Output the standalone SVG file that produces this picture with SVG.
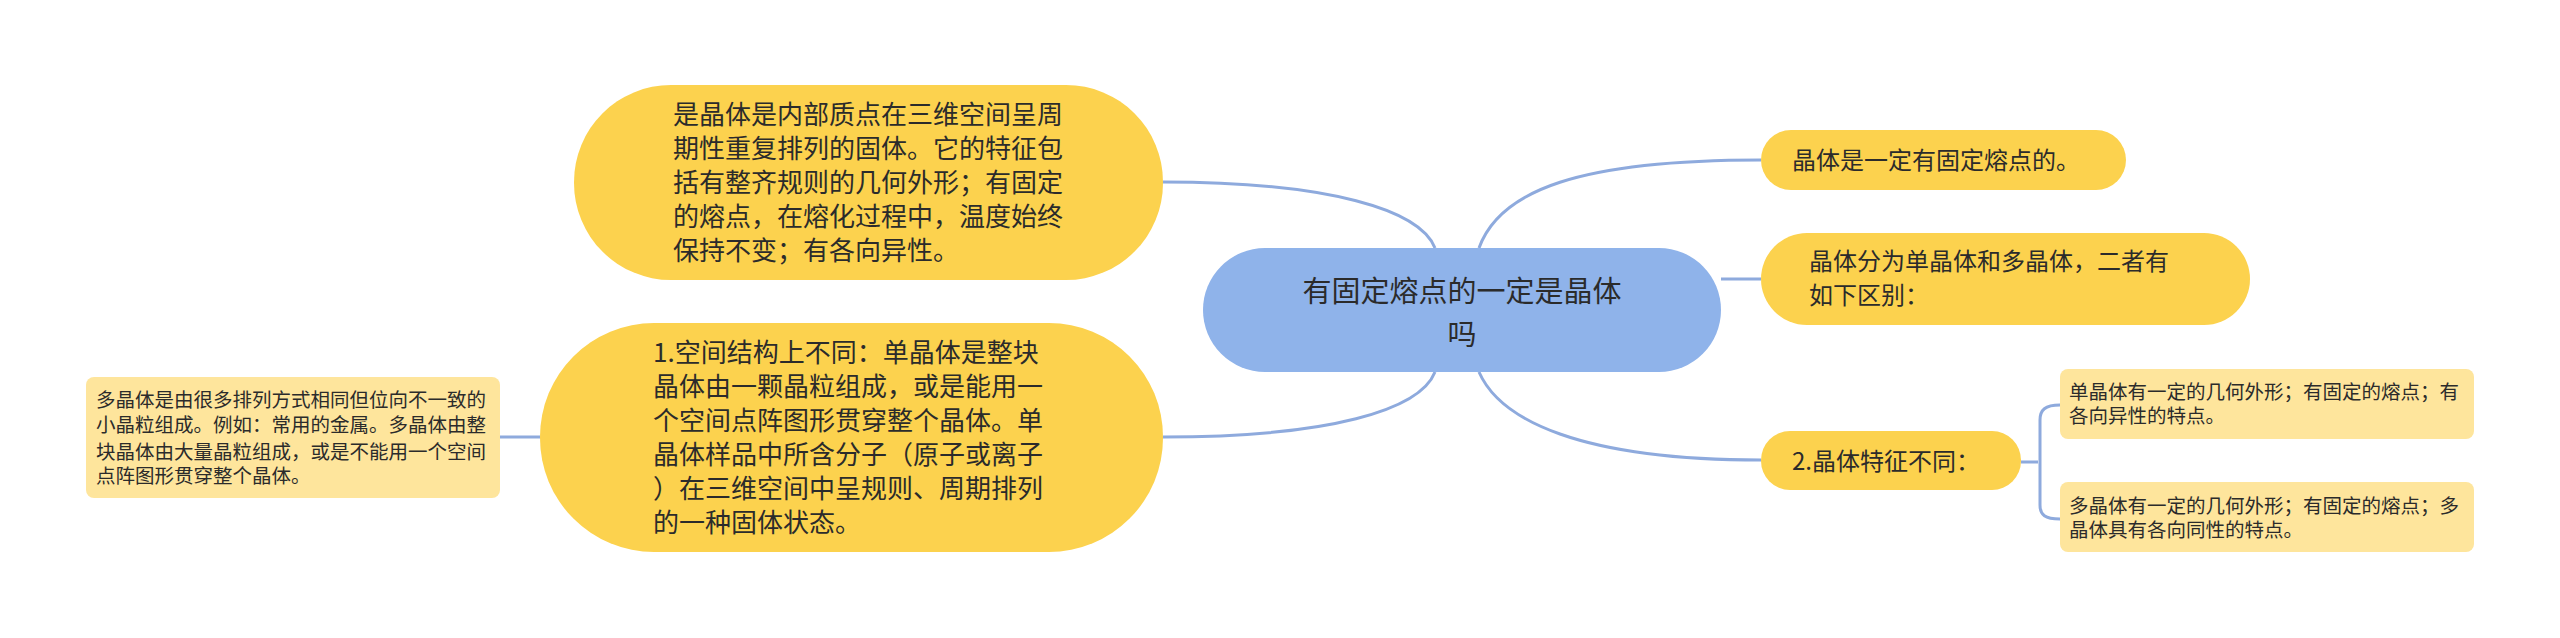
<svg xmlns="http://www.w3.org/2000/svg" width="2560" height="638" viewBox="0 0 2560 638">
<style>
text{font-family:"Noto Sans CJK SC","Liberation Sans",sans-serif;fill:#2b2b2b}
.y{fill:#fcd24e}
.l{fill:#fee59c}
.c{fill:none;stroke:#8eaadd;stroke-width:3}
.m{font-size:26px}
.s{font-size:19.5px}
.r{font-size:24px}
</style>
<rect width="2560" height="638" fill="#fff"/>
<g id="connectors">
<path class="c" d="M1163,182 C1330,182 1420,210 1435,248"/>
<path class="c" d="M1163,437 C1330,437 1420,410 1435,372"/>
<path class="c" d="M1479,248 C1500,190 1580,160 1761,160"/>
<path class="c" d="M1721,279 L1761,279"/>
<path class="c" d="M1479,372 C1500,420 1580,460 1761,460"/>
<path class="c" d="M500,437 L540,437"/>
<path class="c" d="M2021,462 L2038,462 M2060,405 C2045,405 2040,410 2040,420 L2040,505 C2040,515 2045,519 2060,519"/>
</g>
<g id="center">
<rect x="1203" y="248" width="518" height="124" rx="62" fill="#8fb3ea"/>
<text x="1462" y="302" font-size="29" text-anchor="middle">有固定熔点的一定是晶体</text>
<text x="1462" y="345" font-size="29" text-anchor="middle">吗</text>
</g>
<g id="n1">
<rect class="y" x="574" y="85" width="589" height="195" rx="97"/>
<text class="m" x="673" y="124">是晶体是内部质点在三维空间呈周</text>
<text class="m" x="673" y="158">期性重复排列的固体。它的特征包</text>
<text class="m" x="673" y="192">括有整齐规则的几何外形；有固定</text>
<text class="m" x="673" y="226">的熔点，在熔化过程中，温度始终</text>
<text class="m" x="673" y="260">保持不变；有各向异性。</text>
</g>
<g id="n2">
<rect class="y" x="540" y="323" width="623" height="229" rx="114"/>
<text class="m" x="653" y="362">1.空间结构上不同：单晶体是整块</text>
<text class="m" x="653" y="396">晶体由一颗晶粒组成，或是能用一</text>
<text class="m" x="653" y="430">个空间点阵图形贯穿整个晶体。单</text>
<text class="m" x="653" y="464">晶体样品中所含分子（原子或离子</text>
<text class="m" x="653" y="498">）在三维空间中呈规则、周期排列</text>
<text class="m" x="653" y="532">的一种固体状态。</text>
</g>
<g id="n3">
<rect class="l" x="86" y="377" width="414" height="121" rx="8"/>
<text class="s" x="96" y="407">多晶体是由很多排列方式相同但位向不一致的</text>
<text class="s" x="96" y="432">小晶粒组成。例如：常用的金属。多晶体由整</text>
<text class="s" x="96" y="459">块晶体由大量晶粒组成，或是不能用一个空间</text>
<text class="s" x="96" y="483">点阵图形贯穿整个晶体。</text>
</g>
<g id="n4">
<rect class="y" x="1761" y="130" width="365" height="60" rx="30"/>
<text class="r" x="1792" y="169">晶体是一定有固定熔点的。</text>
</g>
<g id="n5">
<rect class="y" x="1761" y="233" width="489" height="92" rx="46"/>
<text class="r" x="1809" y="270">晶体分为单晶体和多晶体，二者有</text>
<text class="r" x="1809" y="304">如下区别：</text>
</g>
<g id="n6">
<rect class="y" x="1761" y="431" width="260" height="59" rx="29"/>
<text class="r" x="1792" y="470">2.晶体特征不同：</text>
</g>
<g id="n7">
<rect class="l" x="2060" y="369" width="414" height="70" rx="8"/>
<text class="s" x="2069" y="399">单晶体有一定的几何外形；有固定的熔点；有</text>
<text class="s" x="2069" y="423">各向异性的特点。</text>
</g>
<g id="n8">
<rect class="l" x="2060" y="482" width="414" height="70" rx="8"/>
<text class="s" x="2069" y="513">多晶体有一定的几何外形；有固定的熔点；多</text>
<text class="s" x="2069" y="537">晶体具有各向同性的特点。</text>
</g>
</svg>
